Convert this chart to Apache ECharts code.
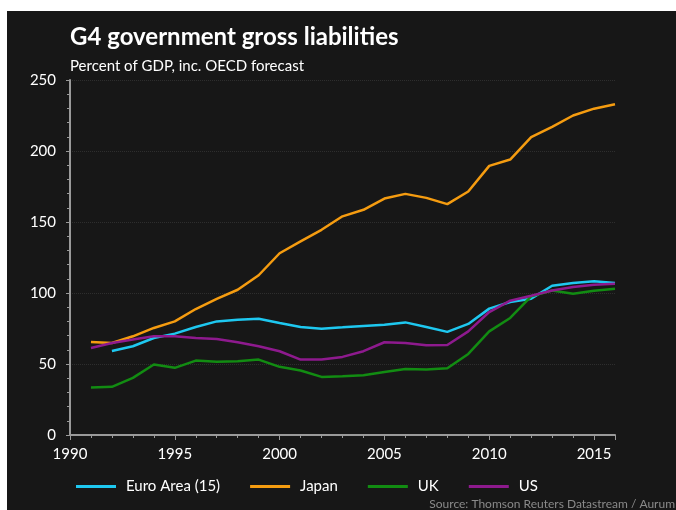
<!DOCTYPE html>
<html>
<head>
<meta charset="utf-8">
<script src="https://cdn.jsdelivr.net/npm/echarts@6/dist/echarts.min.js"></script>
<style>
html,body{margin:0;padding:0;background:#ffffff;width:676px;height:510px;overflow:hidden;}
#c{position:absolute;left:7px;top:11px;width:669px;height:499px;}
</style>
</head>
<body>
<div id="c"></div>
<script>
var years = [1991,1992,1993,1994,1995,1996,1997,1998,1999,2000,2001,2002,2003,2004,2005,2006,2007,2008,2009,2010,2011,2012,2013,2014,2015,2016];
var euroArea = [null,59.2,62.5,68.3,71.4,76.1,80.0,81.2,81.9,78.9,76.1,74.9,75.8,76.8,77.7,79.3,76.1,72.6,78.2,89.0,93.7,96.0,105.1,107.0,108.2,107.0];
var japan = [65.5,64.8,69.5,75.4,80.0,88.7,95.8,102.3,112.5,128.0,136.3,144.5,154.0,158.6,166.5,169.8,167.0,162.6,171.5,189.5,194.0,209.7,217.0,225.0,229.8,232.9];
var uk = [33.4,33.9,40.2,49.6,47.3,52.4,51.5,51.9,53.1,48.0,45.4,40.9,41.4,42.1,44.4,46.5,46.1,47.0,57.1,73.0,82.4,97.6,101.8,99.5,101.6,103.0];
var us = [61.3,64.8,67.2,69.5,69.5,68.3,67.6,65.3,62.5,59.0,53.1,53.1,55.0,59.0,65.3,64.8,63.2,63.4,73.0,86.6,94.6,98.1,101.8,104.2,105.8,106.5];
var seriesNames = ['Euro Area (15)','Japan','UK','US'];
var seriesColors = ['#1ec8f0','#f59c10','#128c12','#8e1a8e'];
var titleText = 'G4 government gross liabilities';
var subtitleText = 'Percent of GDP, inc. OECD forecast';
var sourceText = 'Source: Thomson Reuters Datastream / Aurum';

function pairs(vals){ return years.map(function(y,i){ return [y, vals[i]]; }); }
var allVals = [euroArea, japan, uk, us];

var chart = echarts.init(document.getElementById('c'), null, {renderer:'canvas'});
var FONT = 'Lato';
chart.setOption({
  backgroundColor: '#171717',
  animation: false,
  title: {
    text: titleText,
    subtext: subtitleText,
    left: 58, top: 9,
    itemGap: 10,
    textStyle: {color:'#ffffff', fontFamily: FONT, fontWeight:'bold', fontSize: 24},
    subtextStyle: {color:'#ffffff', fontFamily: FONT, fontSize: 15}
  },
  grid: {left: 63, right: 61, top: 69, bottom: 75},
  legend: {
    data: seriesNames,
    left: 64, top: 463,
    icon: 'rect', itemWidth: 40, itemHeight: 3, itemGap: 30,
    textStyle: {color:'#ffffff', fontFamily: FONT, fontSize: 15, padding:[0,0,0,5]}
  },
  xAxis: {
    type: 'value', min: 1990, max: 2016, interval: 5,
    axisLine: {show: true, lineStyle: {color:'#9a9a9a', width: 2}},
    axisTick: {show: true, length: 5, lineStyle: {color:'#9a9a9a'}},
    minorTick: {show: true, splitNumber: 5, length: 3, lineStyle: {color:'#9a9a9a'}},
    splitLine: {show: false},
    axisLabel: {color:'#ffffff', fontFamily: FONT, fontSize: 15, margin: 12,
      formatter: function(v){ return String(v); }}
  },
  yAxis: {
    type: 'value', min: 0, max: 250, interval: 50,
    axisLine: {show: true, lineStyle: {color:'#9a9a9a', width: 2}},
    axisTick: {show: true, length: 4, lineStyle: {color:'#9a9a9a'}},
    minorTick: {show: true, splitNumber: 5, length: 3, lineStyle: {color:'#9a9a9a'}},
    splitLine: {show: true, lineStyle: {color:'#2e2e2e', type:'dotted'}},
    axisLabel: {color:'#ffffff', fontFamily: FONT, fontSize: 15, margin: 14}
  },
  graphic: [{
    type: 'text', right: 1, bottom: 0,
    style: {text: sourceText, fill:'#8a8a8a', font: '12px Lato'}
  }],
  series: seriesNames.map(function(n,i){
    return {
      name: n, type: 'line', data: pairs(allVals[i]),
      showSymbol: false, symbol: 'none',
      lineStyle: {color: seriesColors[i], width: 2.5},
      itemStyle: {color: seriesColors[i]}
    };
  })
});
</script>
</body>
</html>
